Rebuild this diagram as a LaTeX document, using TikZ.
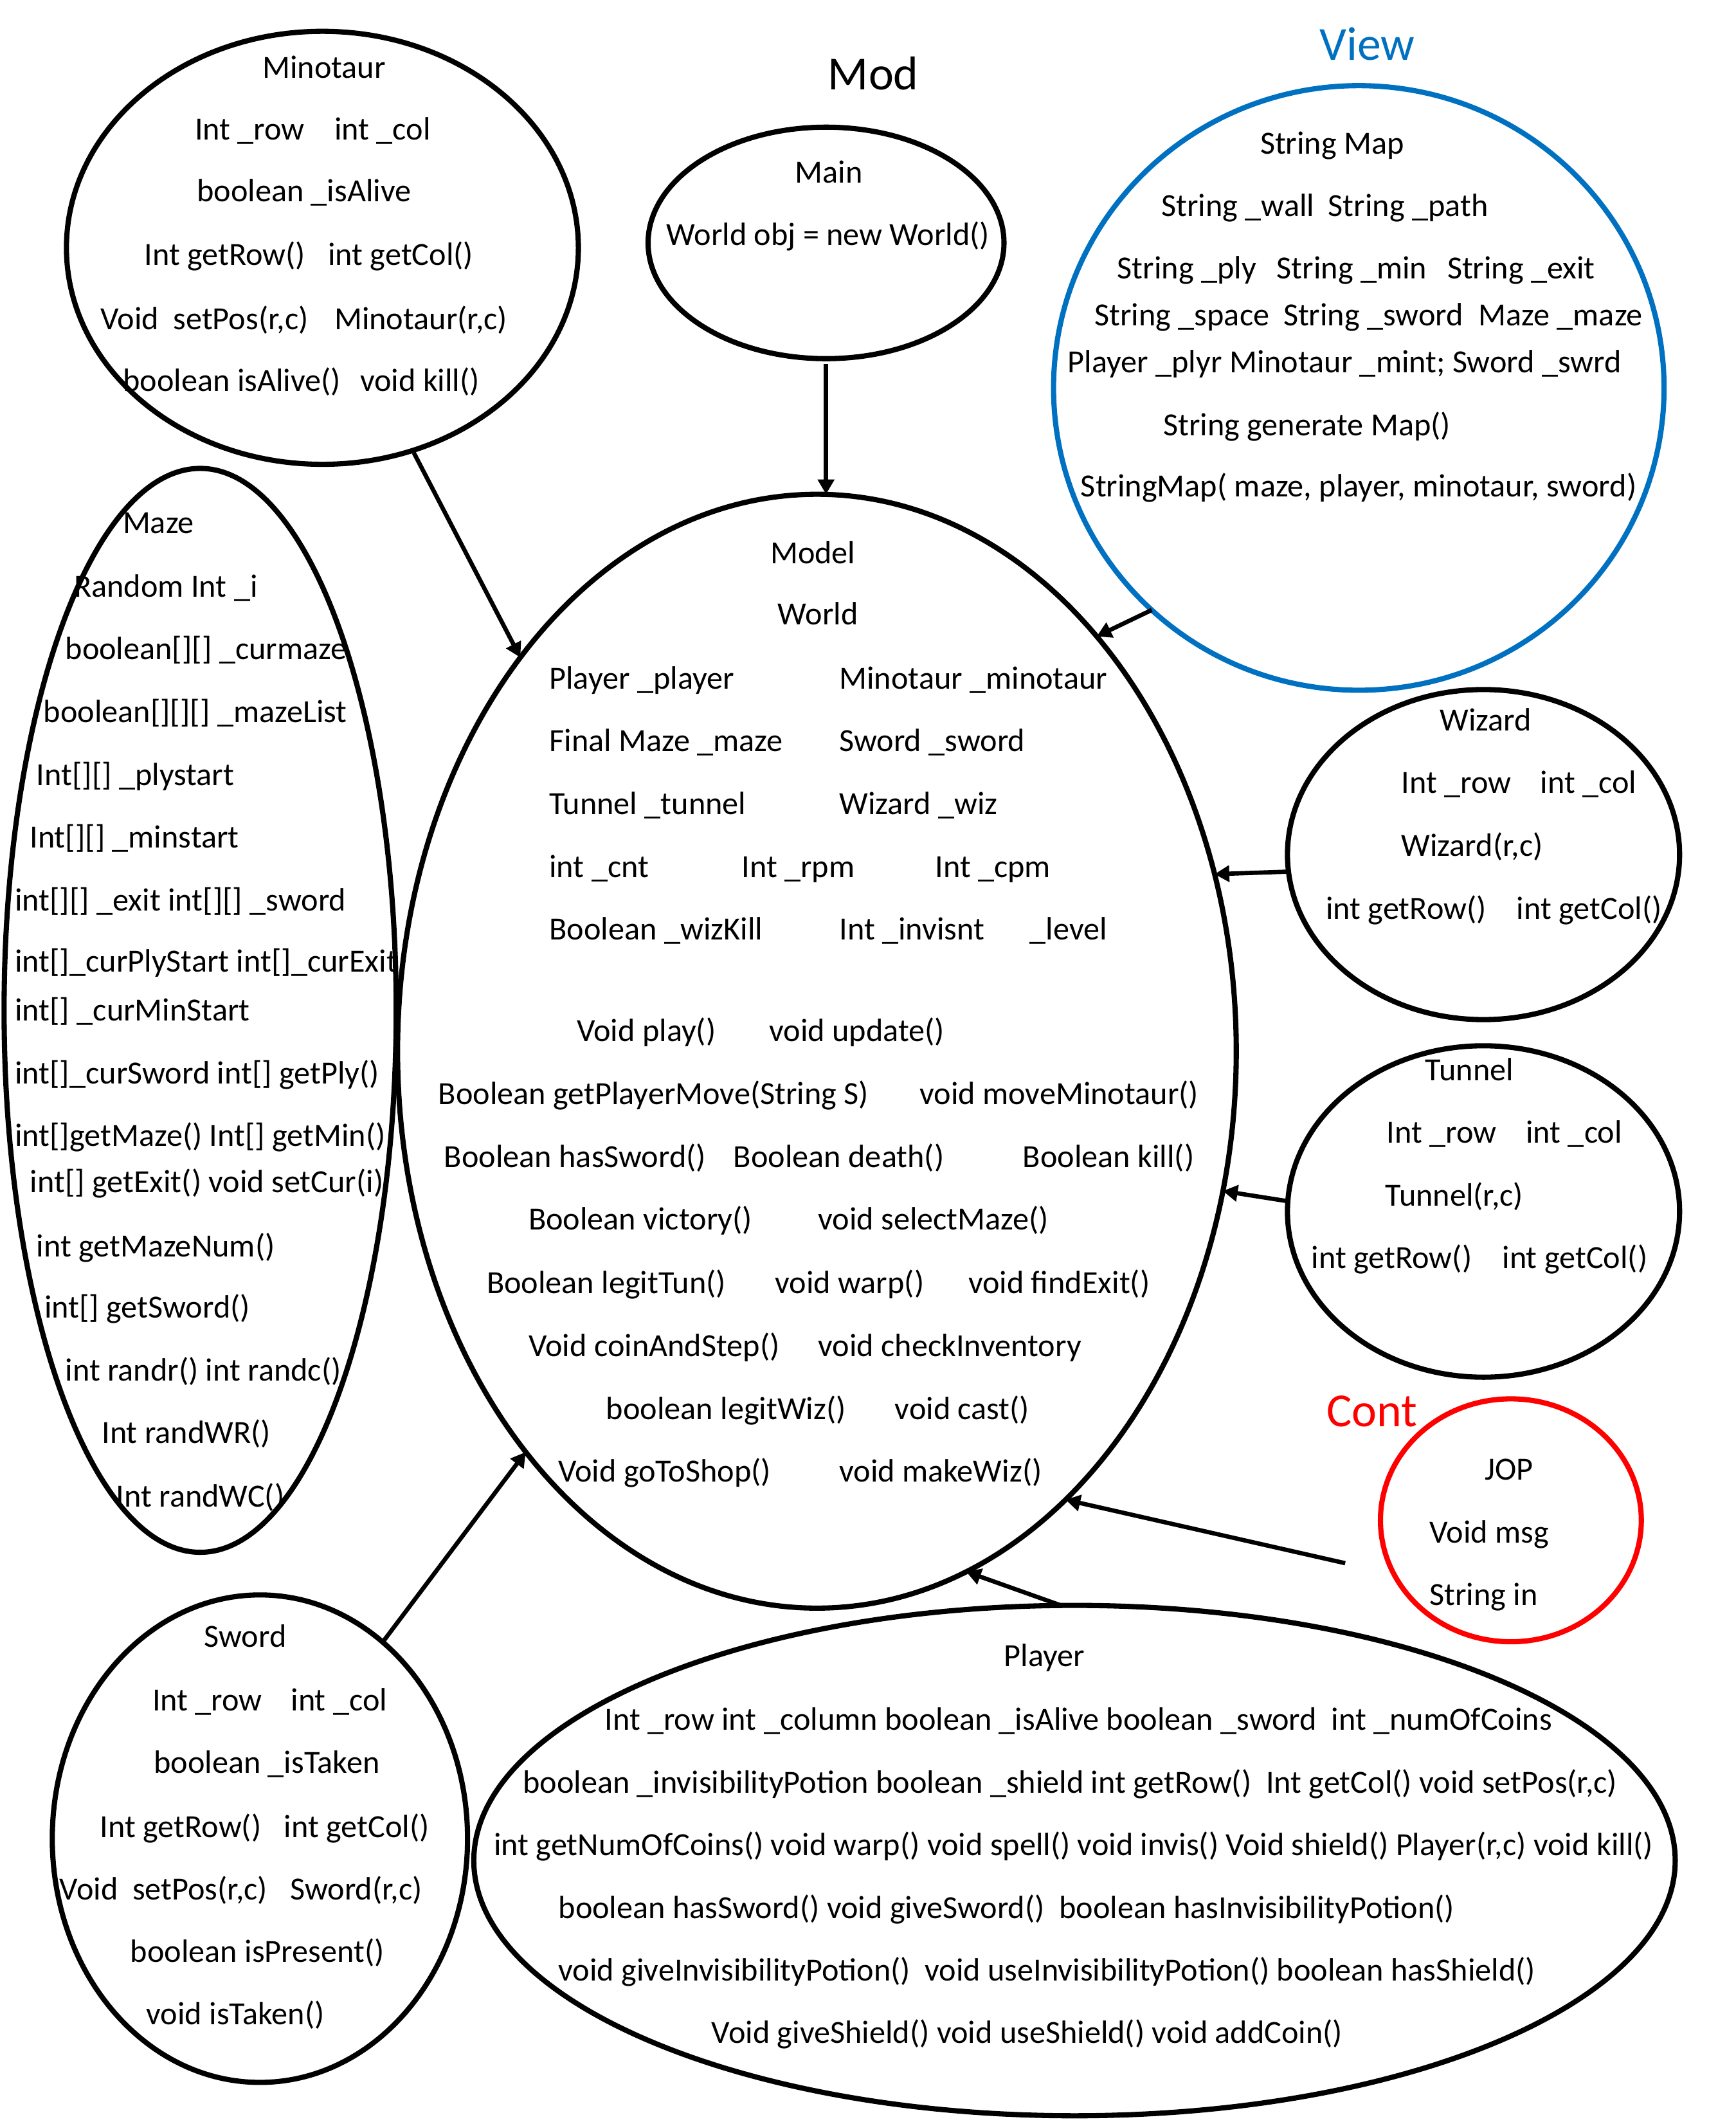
\documentclass[tikz,border=0pt]{standalone}
\usepackage{fontspec}
\setmainfont{Carlito}
\usetikzlibrary{shapes.geometric,arrows.meta}
\definecolor{viewblue}{RGB}{0,112,192}
\definecolor{contred}{RGB}{255,0,0}
\def\ux{0.021176cm}
\begin{document}
\begin{tikzpicture}[x=0.021176cm, y=-0.021176cm,
  cls/.style={ellipse, draw, line width=2.3pt, inner sep=0pt, outer sep=0pt},
  tx/.style={anchor=base west, inner sep=0pt, outer sep=0pt, font=\fontsize{14.3}{17}\selectfont, yshift=-7*\ux},
  big/.style={anchor=base west, inner sep=0pt, outer sep=0pt, font=\fontsize{21}{25}\selectfont, yshift=-11*\ux},
  arr/.style={line width=1.9pt, -{Triangle[length=0.23cm,width=0.25cm]}}
]
\useasboundingbox (0,0) rectangle (1275,1558.4);

% ---------- class ellipses ----------
\node[cls, minimum width=376*\ux, minimum height=318*\ux] (mino) at (236.8,182) {};
\node[cls, minimum width=288*\ux, minimum height=796*\ux] (maze) at (147,742) {};
\node[cls, minimum width=261.4*\ux, minimum height=170*\ux] (main) at (606.7,178.4) {};
\node[cls, draw=viewblue, minimum width=448.4*\ux, minimum height=444*\ux] (view) at (998,284.9) {};
\node[cls, minimum width=616*\ux, minimum height=818*\ux] (model) at (600,772) {};
\node[cls, minimum width=288*\ux, minimum height=242.4*\ux] (wiz) at (1089.6,627.6) {};
\node[cls, minimum width=288*\ux, minimum height=243.4*\ux] (tun) at (1089.6,889.7) {};
\node[cls, draw=contred, minimum width=191.6*\ux, minimum height=178.4*\ux] (cont) at (1109.7,1116.5) {};
\node[cls, minimum width=305*\ux, minimum height=358*\ux] (sword) at (190.9,1350.3) {};
\node[cls, minimum width=882.4*\ux, minimum height=374.8*\ux] (player) at (789.2,1366.4) {};

% ---------- group labels ----------
\node[big] (lmod) at (608.2,54.7) {Mod};
\node[big, text=viewblue] (lview) at (969.3,33.1) {View};
\node[big, text=contred] (lcont) at (974.4,1036.5) {Cont};

% ---------- Minotaur ----------
\node[tx] (mn0) at (192.8,50.6) {Minotaur};
\node[tx] (mn1) at (143.1,95.9) {Int \_row};
\node[tx] (mn2) at (245.6,95.9) {int \_col};
\node[tx] (mn3) at (144.6,141.2) {boolean \_isAlive};
\node[tx] (mn4) at (106,187.6) {Int getRow()};
\node[tx] (mn5) at (241,187.6) {int getCol()};
\node[tx] (mn6) at (73.8,235) {Void~ setPos(r,c)};
\node[tx] (mn7) at (245.6,235) {Minotaur(r,c)};
\node[tx] (mn8) at (90.4,280.4) {boolean isAlive()};
\node[tx] (mn9) at (264.5,280.4) {void kill()};

% ---------- Main ----------
\node[tx] (mm0) at (584,127.5) {Main};
\node[tx] (mm1) at (489.7,173.3) {World obj = new World()};

% ---------- View ----------
\node[tx] (v0) at (925.6,106) {String Map};
\node[tx] (v1) at (853,151.7) {String \_wall};
\node[tx] (v2) at (975.6,151.7) {String \_path};
\node[tx] (v3) at (820.7,197.8) {String \_ply};
\node[tx] (v4) at (937.8,197.8) {String \_min};
\node[tx] (v5) at (1063,197.8) {String \_exit};
\node[tx] (v6) at (804,232) {String \_space};
\node[tx] (v7) at (942.6,232) {String \_sword};
\node[tx] (v8) at (1086,232) {Maze \_maze};
\node[tx] (v9) at (784.3,266.7) {Player \_plyr Minotaur \_mint; Sword \_swrd};
\node[tx] (v10) at (854.4,313) {String generate Map()};
\node[tx] (v11) at (793.8,357.8) {StringMap( maze, player, minotaur, sword)};

% ---------- Model ----------
\node[tx] (m0) at (565.8,406.9) {Model};
\node[tx] (m1) at (571.4,452) {World};
\node[tx] (m2) at (403.5,498.8) {Player \_player};
\node[tx] (m3) at (616.5,498.8) {Minotaur \_minotaur};
\node[tx] (m4) at (403.5,545) {Final Maze \_maze};
\node[tx] (m5) at (616.5,545) {Sword \_sword};
\node[tx] (m6) at (403.5,591.3) {Tunnel \_tunnel};
\node[tx] (m7) at (616.5,591.3) {Wizard \_wiz};
\node[tx] (m8) at (403.5,637.5) {int \_cnt};
\node[tx] (m9) at (544.8,637.5) {Int \_rpm};
\node[tx] (m10) at (686.9,637.5) {Int \_cpm};
\node[tx] (m11) at (403.5,683.2) {Boolean \_wizKill};
\node[tx] (m12) at (616.5,683.2) {Int \_invisnt};
\node[tx] (m13) at (756.5,683.2) {\_level};
\node[tx] (m14) at (423.6,757.9) {Void play()};
\node[tx] (m15) at (565,757.9) {void update()};
\node[tx] (m16) at (322,804) {Boolean getPlayerMove(String S)};
\node[tx] (m17) at (675.5,804) {void moveMinotaur()};
\node[tx] (m18) at (326.3,850.3) {Boolean hasSword()};
\node[tx] (m19) at (538.8,850.3) {Boolean death()};
\node[tx] (m20) at (751.3,850.3) {Boolean kill()};
\node[tx] (m21) at (388.2,896.3) {Boolean victory()};
\node[tx] (m22) at (600.9,896.3) {void selectMaze()};
\node[tx] (m23) at (357.5,943) {Boolean legitTun()};
\node[tx] (m24) at (569.3,943) {void warp()};
\node[tx] (m25) at (711.2,943) {void findExit()};
\node[tx] (m26) at (388.2,989.3) {Void coinAndStep()};
\node[tx] (m27) at (600.9,989.3) {void checkInventory};
\node[tx] (m28) at (445.3,1035.4) {boolean legitWiz()};
\node[tx] (m29) at (657.3,1035.4) {void cast()};
\node[tx] (m30) at (409.9,1081.2) {Void goToShop()};
\node[tx] (m31) at (616.5,1081.2) {void makeWiz()};

% ---------- Maze ----------
\node[tx] (z0) at (90.2,384.5) {Maze};
\node[tx] (z1) at (54.4,431.5) {Random Int \_i};
\node[tx] (z2) at (48,477.5) {boolean[][] \_curmaze};
\node[tx] (z3) at (32,523.5) {boolean[][][] \_mazeList};
\node[tx] (z4) at (26.8,570) {Int[][] \_plystart};
\node[tx] (z5) at (21.9,615.5) {Int[][] \_minstart};
\node[tx] (z6) at (11,662) {int[][] \_exit int[][] \_sword};
\node[tx] (z7) at (11,707) {int[]\_curPlyStart int[]\_curExit};
\node[tx] (z8) at (11,742.5) {int[] \_curMinStart};
\node[tx] (z9) at (11,789) {int[]\_curSword int[] getPly()};
\node[tx] (z10) at (11,835) {int[]getMaze() Int[] getMin()};
\node[tx] (z11) at (22.1,869) {int[] getExit() void setCur(i)};
\node[tx] (z12) at (26.8,916) {int getMazeNum()};
\node[tx] (z13) at (32.7,961) {int[] getSword()};
\node[tx] (z14) at (48,1007) {int randr() int randc()};
\node[tx] (z15) at (74.8,1053) {Int randWR()};
\node[tx] (z16) at (85.4,1099.5) {Int randWC()};

% ---------- Wizard ----------
\node[tx] (w0) at (1057.5,529.6) {Wizard};
\node[tx] (w1) at (1029.3,575.4) {Int \_row};
\node[tx] (w2) at (1131.4,575.4) {int \_col};
\node[tx] (w3) at (1029.3,622) {Wizard(r,c)};
\node[tx] (w4) at (973.9,668.3) {int getRow()};
\node[tx] (w5) at (1114,668.3) {int getCol()};

% ---------- Tunnel ----------
\node[tx] (u0) at (1046.9,786.4) {Tunnel};
\node[tx] (u1) at (1018.4,832.2) {Int \_row};
\node[tx] (u2) at (1120.8,832.2) {int \_col};
\node[tx] (u3) at (1017.5,878.9) {Tunnel(r,c)};
\node[tx] (u4) at (963.3,924.7) {int getRow()};
\node[tx] (u5) at (1103.4,924.7) {int getCol()};

% ---------- Cont ----------
\node[tx] (c0) at (1090.7,1079.8) {JOP};
\node[tx] (c1) at (1050,1126.1) {Void msg};
\node[tx] (c2) at (1050,1171.9) {String in};

% ---------- Sword ----------
\node[tx] (s0) at (150,1202.5) {Sword};
\node[tx] (s1) at (112,1249.4) {Int \_row};
\node[tx] (s2) at (213.7,1249.4) {int \_col};
\node[tx] (s3) at (113,1295.2) {boolean \_isTaken};
\node[tx] (s4) at (73.6,1342.2) {Int getRow()};
\node[tx] (s5) at (208.7,1342.2) {int getCol()};
\node[tx] (s6) at (43.8,1388.2) {Void~ setPos(r,c)};
\node[tx] (s7) at (213.2,1388.2) {Sword(r,c)};
\node[tx] (s8) at (95.8,1433.8) {boolean isPresent()};
\node[tx] (s9) at (107.5,1479.9) {void isTaken()};

% ---------- Player ----------
\node[tx] (p0) at (737.5,1217) {Player};
\node[tx] (p1) at (444.1,1263.5) {Int \_row int \_column boolean \_isAlive boolean \_sword~ int \_numOfCoins};
\node[tx] (p2) at (384,1309.6) {boolean \_invisibilityPotion boolean \_shield int getRow()~ Int getCol() void setPos(r,c)};
\node[tx] (p3) at (362.8,1355.7) {int getNumOfCoins() void warp() void spell() void invis() Void shield() Player(r,c) void kill()};
\node[tx] (p4) at (410.2,1401.8) {boolean hasSword() void giveSword()~ boolean hasInvisibilityPotion()};
\node[tx] (p5) at (410.2,1447.9) {void giveInvisibilityPotion()~ void useInvisibilityPotion() boolean hasShield()};
\node[tx] (p6) at (522.7,1493.4) {Void giveShield() void useShield() void addCoin()};

% ---------- connectors ----------
\coordinate (contfree) at (988,1148);
\draw[arr, shorten <=4*\ux] (main.south) -- (main.south |- model.north);
\draw[arr, shorten <=2*\ux] (mino.-66.6) -- (model.127.4);
\draw[arr] (view.227) -- (model.56.65);
\draw[arr] (wiz.185) -- (model.24.1);
\draw[arr] (tun.177.3) -- (model.-19.4);
\draw[arr] (contfree) -- (model.-61.1);
\draw[arr] (player.93.7) -- (model.-74.7);
\draw[arr] (sword.58.7) -- (model.234.7);
\end{tikzpicture}
\end{document}
